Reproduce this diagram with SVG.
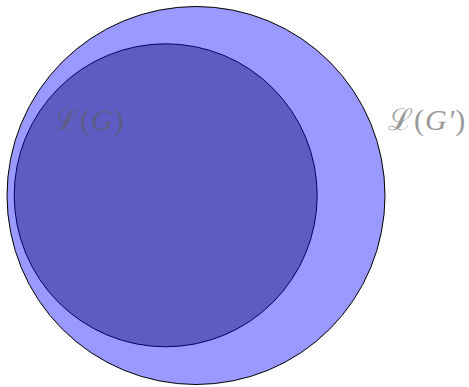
<svg xmlns="http://www.w3.org/2000/svg" width="469" height="387" viewBox="0 0 469 387">
<style>
.lbl{font-family:"Liberation Serif","DejaVu Serif",serif;font-size:30px;letter-spacing:1px}
.it{font-style:italic}
</style>
<rect width="469" height="387" fill="#ffffff"/>
<g id="outer">
<circle cx="196" cy="195.5" r="189" fill="#9999ff" stroke="#000000" stroke-width="1"/>
</g>
<g id="labelG">
<text class="lbl" x="54" y="130" fill="#999999">ℒ(<tspan class="it">G</tspan>)</text>
</g>
<g id="inner">
<circle cx="165.7" cy="195.3" r="151.5" fill="#000066" fill-opacity="0.4" stroke="#000066" stroke-width="1"/>
</g>
<g id="labelGp">
<text class="lbl" x="388" y="130" fill="#999999">ℒ(<tspan class="it">G′</tspan>)</text>
</g>
<g id="connectors"/>
</svg>
